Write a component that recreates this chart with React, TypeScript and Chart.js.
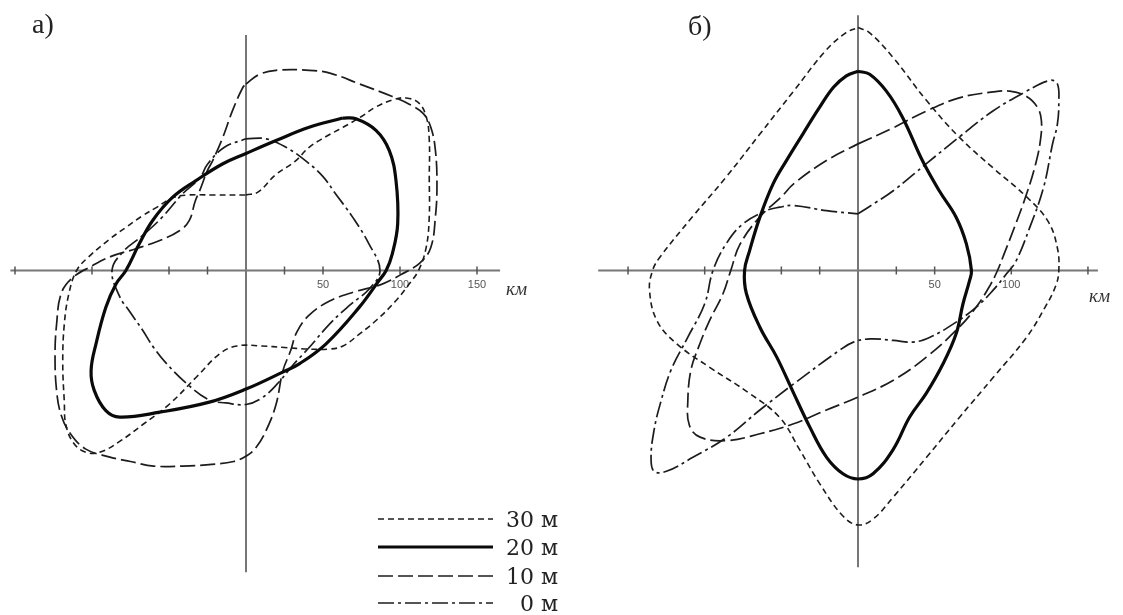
import React, { useEffect, useRef } from "react";
import { Chart, registerables } from "chart.js";

Chart.register(...registerables);

type Pt = [number, number];

// ---------- Panel а (km) ----------
const a30m: Pt[] = [
  [0, 49], [8, 51], [19, 62], [32, 71], [41, 80], [52, 87], [63, 93], [75, 100], [84, 106], [96, 111],
  [104, 112], [112, 109], [117, 100], [119, 85], [119, 60], [119, 35], [117, 15], [112, 0], [105, -10],
  [97, -20], [85, -32], [74, -41], [63, -49], [54, -51], [40, -51], [25, -50], [10, -49], [-6, -49],
  [-17, -54], [-32, -69], [-50, -87], [-67, -100], [-82, -111], [-95, -118], [-104, -118], [-112, -112],
  [-117, -100], [-118, -85], [-119, -60], [-118, -35], [-115, -15], [-110, 0], [-102, 9], [-89, 20],
  [-78, 28], [-68, 35], [-58, 41], [-48, 47], [-38, 49], [-20, 49], [0, 49],
];
const a20m: Pt[] = [
  [62.8, 99], [71.4, 98.5], [84.4, 91], [93, 78], [97.4, 58.4], [98.5, 30.3], [95, 10.8], [91, 0],
  [86, -7], [73.6, -23.8], [52, -47.6], [34.6, -60.6], [23.8, -66], [0, -77], [-23.8, -85.5],
  [-56, -92], [-82, -95.2], [-91, -91], [-98.5, -78], [-100.6, -65], [-97.4, -47.6], [-91, -23.8],
  [-84.4, -8.7], [-78, 0], [-69.3, 17.3], [-60.6, 32.5], [-47.6, 47.6], [-32.5, 58.4], [-15, 69.3],
  [0, 76], [19.5, 84.4], [41, 93], [62.8, 99],
];
const a10m: Pt[] = [
  [0, 121], [8, 127], [19.5, 130], [41, 130], [55, 128], [74, 121], [95, 113], [106, 108], [115, 102],
  [120, 93], [123, 78], [124, 55], [123, 35], [120, 15], [113, 5], [100, -3], [88, -9], [70, -14],
  [54, -20], [41, -29], [33, -40], [29, -52], [24, -65], [19.5, -87], [13, -104], [6.5, -115], [1, -120],
  [-8, -124], [-24, -126], [-41, -127], [-60, -127], [-75, -124], [-89, -121], [-104, -116],
  [-114, -106], [-120, -94], [-123, -78], [-124, -55], [-123, -35], [-120, -15], [-113, -5], [-100, 3],
  [-88, 9], [-72, 14], [-56, 19.5], [-43, 26], [-36.8, 32.5], [-33, 45], [-30, 52], [-25, 65],
  [-21.6, 71.4], [-15, 86.6], [-8.7, 104], [-2, 119], [0, 121],
];
const a0m: Pt[] = [
  [0, 85.5], [13, 85.5], [26, 80], [39, 71], [50, 61], [58, 50], [69, 35], [80, 17], [87, 0], [80, -12],
  [68, -22], [55, -34], [41, -50], [30, -62], [20, -74], [10, -83], [0, -87], [-13, -86], [-24, -84],
  [-39, -73], [-52, -60], [-60, -50], [-67, -39], [-76, -26], [-82, -17], [-87, 0], [-80, 12],
  [-68, 22], [-55, 34], [-41, 50], [-30, 60], [-25, 69], [-14, 80], [0, 85.5],
];

// ---------- Panel б (km) ----------
const b30m: Pt[] = [
  [0, 158.5], [7.6, 155], [22.8, 139], [44.6, 111], [66, 87], [88, 67], [110, 48], [124, 32], [130, 15],
  [131, 0], [129, -10], [122, -24], [110, -43.5], [88, -70], [66, -96], [44.6, -122], [22.8, -148],
  [10, -162], [0, -166], [-10, -160], [-25, -139], [-38, -117], [-51, -96], [-71, -80], [-97, -63],
  [-118, -48], [-131, -33], [-136, -13], [-134, 0], [-129, 9], [-108, 35], [-86, 61], [-64, 89],
  [-42, 117], [-21, 143.5], [-8, 155], [0, 158.5],
];
const b20m: Pt[] = [
  [0, 130], [7.6, 128], [18.5, 117], [29, 100], [42, 71.7], [53, 52], [64, 34.8], [70.7, 17.4], [74, 0],
  [72.8, -6.5], [68.5, -21.7], [64, -41.3], [55.4, -61], [44.6, -80], [33.7, -95.6], [22.8, -117],
  [9.8, -132.6], [0, -136], [-9.8, -132.6], [-20.6, -121.7], [-31.5, -102], [-42, -80], [-53, -56.5],
  [-64, -37], [-72.8, -15], [-74, 0], [-70.7, 13], [-64, 34.8], [-55.4, 56.5], [-46.7, 71.7], [-36, 89],
  [-25, 106.5], [-16, 119.5], [-7.6, 127], [0, 130],
];
const b10m: Pt[] = [
  [0, 82.6], [22.8, 93], [44.6, 104], [66, 112.6], [88, 116.5], [99, 117], [110, 113.5], [117, 106.5],
  [119.6, 98], [119, 85], [116, 70], [110, 50], [102, 28], [95, 10], [91, 0], [86, -10], [77, -24],
  [66, -37], [44.6, -56.5], [22.8, -71.7], [0, -82.6], [-20.6, -91], [-42, -100], [-64, -106.5],
  [-86, -111], [-103, -108.7], [-110, -101], [-111, -85], [-109, -65], [-104, -50], [-97, -33],
  [-88, -15], [-83, 0], [-77, 17], [-64, 35], [-50, 48], [-42, 56.5], [-20.6, 71.7], [0, 82.6],
];
const b0m: Pt[] = [
  [0, 37], [11, 44], [23, 52], [45, 70], [66, 87], [88, 104], [110, 117], [125, 124], [130, 122],
  [131, 110], [130, 95], [127, 83], [121, 54], [112, 28], [103, 6], [97, -2], [88, -13], [77, -24],
  [62, -35], [47, -43.5], [36, -46.7], [23, -45.6], [8, -44.6], [-3, -46.7], [-12, -52], [-42, -74],
  [-64, -91], [-86, -109], [-108, -122], [-125, -131], [-133, -131], [-135, -122], [-133, -104],
  [-129, -87], [-122, -65], [-111, -43.5], [-100, -21.7], [-94.6, 0], [-86, 17.4], [-75, 30.4],
  [-60, 39], [-51, 41.3], [-42, 42.4], [-20.6, 39], [0, 37],
];

// ---------- Axes / labels ----------
const axisTicks = [-150, -100, -50, -25, 25, 50, 100, 150];
const tickLabelsA = [50, 100, 150];
const tickLabelsB = [50, 100];
const depthLabels = ["30 м", "20 м", "10 м", "0 м"];
const panelTitles = ["а)", "б)"];
const unitLabel = "км";

// ---------- Styles ----------
const STYLES = [
  { color: "#1c1c1c", width: 1.6, dash: [6, 4] },
  { color: "#0a0a0a", width: 3.2, dash: [] as number[] },
  { color: "#1c1c1c", width: 1.7, dash: [15, 5] },
  { color: "#1c1c1c", width: 1.7, dash: [16, 4, 3, 4] },
];

type PanelCfg = {
  left: number;
  width: number;
  height: number;
  ox: number;
  oy: number;
  k: number;
  xFrom: number;
  xTo: number;
  yTop: number;
  yBottom: number;
  labels: number[];
  series: Pt[][];
};

function Panel({ cfg }: { cfg: PanelCfg }) {
  const ref = useRef<HTMLCanvasElement | null>(null);
  useEffect(() => {
    if (!ref.current) return;
    const xMin = -cfg.ox / cfg.k;
    const xMax = (cfg.width - cfg.ox) / cfg.k;
    const yMax = cfg.oy / cfg.k;
    const yMin = -(cfg.height - cfg.oy) / cfg.k;

    const axisPlugin = {
      id: "crossAxes",
      beforeDatasetsDraw(chart: any) {
        const ctx = chart.ctx as CanvasRenderingContext2D;
        const xs = chart.scales.x;
        const ys = chart.scales.y;
        const x0 = xs.getPixelForValue(0);
        const y0 = ys.getPixelForValue(0);
        ctx.save();
        ctx.strokeStyle = "#777";
        ctx.lineWidth = 2;
        ctx.beginPath();
        ctx.moveTo(xs.getPixelForValue(cfg.xFrom), y0);
        ctx.lineTo(xs.getPixelForValue(cfg.xTo), y0);
        ctx.stroke();
        ctx.beginPath();
        ctx.moveTo(x0, ys.getPixelForValue(cfg.yTop));
        ctx.lineTo(x0, ys.getPixelForValue(cfg.yBottom));
        ctx.stroke();
        ctx.lineWidth = 1.5;
        ctx.strokeStyle = "#555";
        for (const t of axisTicks) {
          const px = xs.getPixelForValue(t);
          ctx.beginPath();
          ctx.moveTo(px, y0 - 4);
          ctx.lineTo(px, y0 + 4);
          ctx.stroke();
        }
        ctx.fillStyle = "#555";
        ctx.font = '11px "Liberation Sans", Arial, sans-serif';
        ctx.textAlign = "center";
        ctx.textBaseline = "middle";
        for (const t of cfg.labels) {
          ctx.fillText(String(t), xs.getPixelForValue(t), y0 + 14);
        }
        ctx.restore();
      },
    };

    const datasets = [1, 0, 2, 3].map((i) => ({
      label: depthLabels[i],
      data: cfg.series[i].map(([x, y]) => ({ x, y })),
      showLine: true,
      borderColor: STYLES[i].color,
      borderWidth: STYLES[i].width,
      borderDash: STYLES[i].dash,
      pointRadius: 0,
      pointHoverRadius: 0,
      tension: 0.4,
      fill: false,
    }));

    const chart = new Chart(ref.current, {
      type: "scatter",
      data: { datasets },
      options: {
        animation: false,
        responsive: false,
        devicePixelRatio: 1,
        layout: { padding: 0 },
        events: [],
        plugins: { legend: { display: false }, tooltip: { enabled: false }, title: { display: false } },
        scales: {
          x: { type: "linear", min: xMin, max: xMax, display: false },
          y: { type: "linear", min: yMin, max: yMax, display: false },
        },
      },
      plugins: [axisPlugin],
    } as any);
    return () => chart.destroy();
  }, [cfg]);
  return (
    <canvas
      ref={ref}
      width={cfg.width}
      height={cfg.height}
      style={{ position: "absolute", left: cfg.left, top: 0, width: cfg.width, height: cfg.height }}
    />
  );
}

const panelA: PanelCfg = {
  left: 0, width: 560, height: 615, ox: 246, oy: 270.5, k: 1.54,
  xFrom: -153, xTo: 165, yTop: 153, yBottom: -196,
  labels: tickLabelsA, series: [a30m, a20m, a10m, a0m],
};
const panelB: PanelCfg = {
  left: 560, width: 563, height: 615, ox: 298, oy: 270.5, k: 1.533,
  xFrom: -169.5, xTo: 156.5, yTop: 166.5, yBottom: -193.5,
  labels: tickLabelsB, series: [b30m, b20m, b10m, b0m],
};

const legendRows = [519, 547, 576, 603];

export default function App() {
  return (
    <div
      style={{
        position: "fixed", left: 0, top: 0, width: 1123, height: 615,
        background: "#fff", overflow: "hidden",
      }}
    >
      <Panel cfg={panelA} />
      <Panel cfg={panelB} />
      <div style={{ position: "absolute", left: 32, top: 10, font: '28px "Liberation Serif", serif', lineHeight: "28px", color: "#222" }}>
        {panelTitles[0]}
      </div>
      <div style={{ position: "absolute", left: 688, top: 12, font: '28px "Liberation Serif", serif', lineHeight: "28px", color: "#222" }}>
        {panelTitles[1]}
      </div>
      <div style={{ position: "absolute", left: 506, top: 279, font: 'italic 19px "Liberation Serif", serif', lineHeight: "19px", color: "#333" }}>
        {unitLabel}
      </div>
      <div style={{ position: "absolute", left: 1089, top: 286, font: 'italic 19px "Liberation Serif", serif', lineHeight: "19px", color: "#333" }}>
        {unitLabel}
      </div>
      <svg width={1123} height={615} style={{ position: "absolute", left: 0, top: 0, pointerEvents: "none" }}>
        {depthLabels.map((lab, i) => (
          <g key={lab}>
            <line
              x1={378} x2={493} y1={legendRows[i]} y2={legendRows[i]}
              stroke={STYLES[i].color} strokeWidth={STYLES[i].width}
              strokeDasharray={STYLES[i].dash.length ? STYLES[i].dash.join(" ") : undefined}
            />
            <text
              x={558} y={legendRows[i]} textAnchor="end" dominantBaseline="central"
              style={{ font: '22px "DejaVu Serif", serif', fill: "#222" }}
            >
              {lab}
            </text>
          </g>
        ))}
      </svg>
    </div>
  );
}
